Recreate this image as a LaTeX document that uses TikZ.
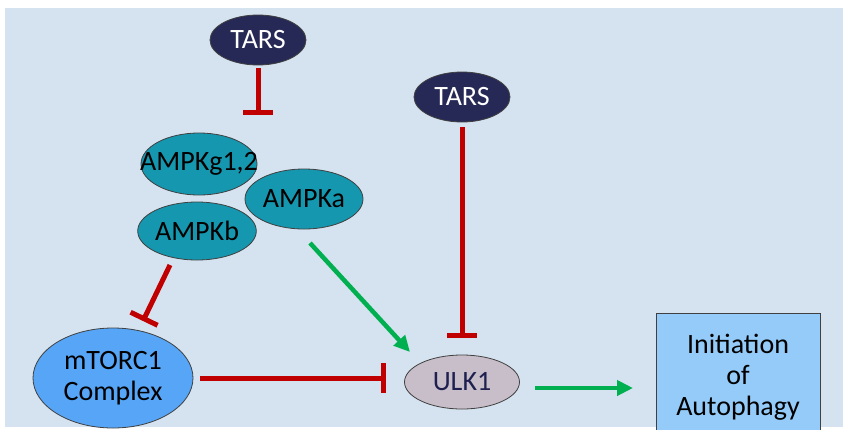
\documentclass[tikz,border=0pt]{standalone}
\usepackage{fontspec}
\setmainfont{Carlito}
\usetikzlibrary{arrows.meta,shapes.geometric}
\definecolor{bgblue}{HTML}{D5E3F1}
\definecolor{navy}{HTML}{262955}
\definecolor{teal}{HTML}{1597AF}
\definecolor{mtorblue}{HTML}{56A5F7}
\definecolor{ulkgray}{HTML}{C8BEC9}
\definecolor{boxblue}{HTML}{94CBF8}
\definecolor{inhred}{HTML}{C00000}
\definecolor{actgreen}{HTML}{00B050}
\definecolor{ulktext}{HTML}{1F2050}
\begin{document}
\begin{tikzpicture}[x=1pt,y=-1pt,
  every node/.style={font=\fontsize{28}{31}\selectfont},
  ell/.style={ellipse,draw=black!75,line width=0.8pt,inner sep=0pt},
  inhib/.style={draw=inhred,line width=5pt,-{Bar[width=30pt]}},
  act/.style={draw=actgreen,line width=4.5pt,-{Triangle[length=16pt,width=15pt]}}]
\useasboundingbox (0,0) rectangle (843,429);
\clip (0,0) rectangle (843,429);
\fill[bgblue] (5,8) rectangle (843,427);

\node[ell,fill=navy,text=white,minimum width=96pt,minimum height=50pt] (tars1) at (258,40) {TARS};
\node[ell,fill=navy,text=white,minimum width=96pt,minimum height=50pt] (tars2) at (462,97) {TARS};
\node[ell,fill=teal,minimum width=116pt,minimum height=62pt] (ampkg) at (199,164) {};
\node[ell,fill=teal,minimum width=118pt,minimum height=58pt] (ampkb) at (197,231) {AMPKb};
\node[ell,fill=teal,minimum width=118pt,minimum height=60pt] (ampka) at (304,199) {AMPKa};
\node (ampkgtext) at (199,164) {AMPKg1,2};
\node[ell,fill=mtorblue,minimum width=160pt,minimum height=100pt,align=center] (mtorc) at (113,378) {mTORC1\\Complex};
\node[ell,fill=ulkgray,text=ulktext,minimum width=115pt,minimum height=54pt] (ulk1) at (462,382) {ULK1};
\node[draw=black!75,line width=0.8pt,fill=boxblue,minimum width=164pt,minimum height=128pt,align=center,inner sep=0pt] (box) at (738,377) {Initiation\\of\\Autophagy};

\coordinate (bfrom) at (170,265);
\coordinate (bto) at (143,321);
\coordinate (afrom) at (310,243);
\coordinate (ato) at (410,352);
\coordinate (ufrom) at (535,388);
\coordinate (uto) at (633,388);

\draw[inhib,shorten <=3pt,shorten >=18pt] (tars1.south) -- (tars1.south |- ampkg.north);
\draw[inhib,shorten <=5pt,shorten >=17pt] (tars2.south) -- (ulk1.north);
\draw[inhib] (bfrom) -- (bto);
\draw[inhib,shorten <=7pt,shorten >=18pt] (mtorc.east) -- (mtorc.east -| ulk1.west);
\draw[act] (afrom) -- (ato);
\draw[act] (ufrom) -- (uto);
\end{tikzpicture}
\end{document}
